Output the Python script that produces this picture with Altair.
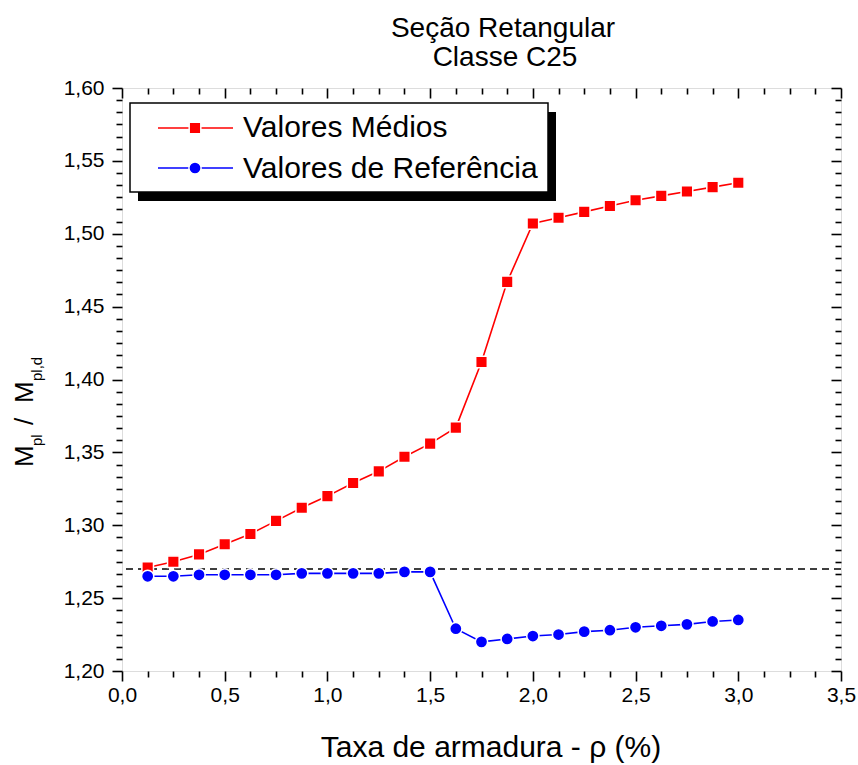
import altair as alt
import pandas as pd

# ---- data -------------------------------------------------------------
rho = [0.125, 0.25, 0.375, 0.5, 0.625, 0.75, 0.875, 1.0,
       1.125, 1.25, 1.375, 1.5, 1.625, 1.75, 1.875, 2.0,
       2.125, 2.25, 2.375, 2.5, 2.625, 2.75, 2.875, 3.0]

valores_medios = [1.271, 1.275, 1.280, 1.287, 1.294, 1.303, 1.312, 1.320,
                  1.329, 1.337, 1.347, 1.356, 1.367, 1.412, 1.467, 1.507,
                  1.511, 1.515, 1.519, 1.523, 1.526, 1.529, 1.532, 1.535]

valores_referencia = [1.265, 1.265, 1.266, 1.266, 1.266, 1.266, 1.267, 1.267,
                      1.267, 1.267, 1.268, 1.268, 1.229, 1.220, 1.222, 1.224,
                      1.225, 1.227, 1.228, 1.230, 1.231, 1.232, 1.234, 1.235]

series_names = ["Valores Médios", "Valores de Referência"]
series_colors = ["#ff0000", "#0000ff"]
series_shapes = ["square", "circle"]
series_sizes = [135, 150]

limite = 1.27  # horizontal reference level

x_major = [0.0, 0.5, 1.0, 1.5, 2.0, 2.5, 3.0, 3.5]
y_major = [1.20, 1.25, 1.30, 1.35, 1.40, 1.45, 1.50, 1.55, 1.60]
x_minor = [round(i * 0.125, 4) for i in range(29) if i % 4 != 0]
y_minor = [round(1.20 + i * 0.05 / 6, 5) for i in range(49) if i % 6 != 0]

titulo = ["Seção Retangular", "Classe C25"]
x_titulo = "Taxa de armadura - ρ (%)"

df = pd.DataFrame({
    "rho": rho * 2,
    "valor": valores_medios + valores_referencia,
    "serie": [series_names[0]] * len(rho) + [series_names[1]] * len(rho),
})

# ---- layout -------------------------------------------------------------
W, H = 719, 583
FONT = "Liberation Sans"

xs = alt.Scale(domain=[0, 3.5], nice=False, zero=False)
ys = alt.Scale(domain=[1.2, 1.6], nice=False, zero=False)
color_scale = alt.Scale(domain=series_names, range=series_colors)
shape_scale = alt.Scale(domain=series_names, range=series_shapes)
size_scale = alt.Scale(domain=series_names, range=series_sizes)

common_axis = dict(domain=False, grid=False, title=None, tickColor="black",
                   tickWidth=1.6)


def axis_layer(xaxis, yaxis):
    return alt.Chart(df).mark_point(opacity=0).encode(
        x=alt.X("rho:Q", scale=xs, axis=xaxis),
        y=alt.Y("valor:Q", scale=ys, axis=yaxis),
    )


# bottom / left: major ticks with labels (comma as decimal separator)
ax_major = axis_layer(
    alt.Axis(orient="bottom", values=x_major, tickSize=10,
             labelExpr="replace(format(datum.value, '.1f'), '.', ',')",
             labelFont=FONT, labelFontSize=21, labelColor="black",
             labelPadding=3, labelFlush=False, labelOverlap=False,
             **common_axis),
    alt.Axis(orient="left", values=y_major, tickSize=10,
             labelExpr="replace(format(datum.value, '.2f'), '.', ',')",
             labelFont=FONT, labelFontSize=21, labelColor="black",
             labelPadding=8, labelFlush=False, labelOverlap=False,
             **common_axis),
)
# bottom / left: minor ticks
ax_minor = axis_layer(
    alt.Axis(orient="bottom", values=x_minor, tickSize=6, labels=False,
             **common_axis),
    alt.Axis(orient="left", values=y_minor, tickSize=6, labels=False,
             **common_axis),
)
# top / right: inward ticks (axis shifted inside, ticks point back to frame)
ax_top_major = axis_layer(
    alt.Axis(orient="top", values=x_major, tickSize=10, offset=-10,
             labels=False, **common_axis),
    alt.Axis(orient="right", values=y_major, tickSize=10, offset=-10,
             labels=False, **common_axis),
)
ax_top_minor = axis_layer(
    alt.Axis(orient="top", values=x_minor, tickSize=6, offset=-6,
             labels=False, **common_axis),
    alt.Axis(orient="right", values=y_minor, tickSize=6, offset=-6,
             labels=False, **common_axis),
)

# dashed reference line
ref_line = alt.Chart(pd.DataFrame({"nivel": [limite]})).mark_rule(
    color="black", strokeWidth=1.5, strokeDash=[7, 5]
).encode(y=alt.Y("nivel:Q", scale=ys, axis=None))

lines = alt.Chart(df).mark_line(strokeWidth=1.6).encode(
    x=alt.X("rho:Q", scale=xs, axis=None),
    y=alt.Y("valor:Q", scale=ys, axis=None),
    color=alt.Color("serie:N", scale=color_scale, legend=None),
    detail="serie:N",
)

points = alt.Chart(df).mark_point(
    filled=True, opacity=1, stroke="white", strokeWidth=1.5
).encode(
    x=alt.X("rho:Q", scale=xs, axis=None),
    y=alt.Y("valor:Q", scale=ys, axis=None),
    color=alt.Color("serie:N", scale=color_scale, legend=None),
    shape=alt.Shape("serie:N", scale=shape_scale, legend=None),
    size=alt.Size("serie:N", scale=size_scale, legend=None),
)

# ---- legend box with drop shadow ------------------------------------------
one = pd.DataFrame({"k": [0]})
legend_shadow = alt.Chart(one).mark_rect(color="black").encode(
    x=alt.value(16), x2=alt.value(434), y=alt.value(24), y2=alt.value(113))
legend_box = alt.Chart(one).mark_rect(
    fill="white", stroke="black", strokeWidth=1.5).encode(
    x=alt.value(8), x2=alt.value(426), y=alt.value(15), y2=alt.value(104))

legend_layers = []
for name, col, shp, sz, ly, ty in zip(series_names, series_colors,
                                      series_shapes, series_sizes,
                                      [40, 80], [49, 90]):
    row = pd.DataFrame({"serie": [name]})
    legend_layers.append(alt.Chart(row).mark_rule(
        color=col, strokeWidth=1.6).encode(
        x=alt.value(36), x2=alt.value(111), y=alt.value(ly)))
    legend_layers.append(alt.Chart(row).mark_point(
        filled=True, opacity=1, size=sz, shape=shp, color=col,
        stroke="white", strokeWidth=1.5).encode(
        x=alt.value(73), y=alt.value(ly)))
    legend_layers.append(alt.Chart(row).mark_text(
        align="left", baseline="alphabetic", font=FONT, fontSize=30,
        color="black").encode(
        x=alt.value(121), y=alt.value(ty), text="serie:N"))

# ---- titles ---------------------------------------------------------------
def label(text, x, y, size, angle=0, align="center"):
    return alt.Chart(pd.DataFrame({"t": [text]})).mark_text(
        align=align, baseline="alphabetic", font=FONT, fontSize=size,
        color="black", angle=angle).encode(
        x=alt.value(x), y=alt.value(y), text="t:N")


title_layers = [
    label(titulo[0], 381, -51, 28),
    label(titulo[1], 383, -22, 28),
    label(x_titulo, 369, 669, 30),
    # y title: M_pl / M_pl,d, read bottom to top
    label("M", -89, 379, 26, angle=270, align="left"),
    label("pl", -80, 358, 15, angle=270, align="left"),
    label("/", -89, 337, 26, angle=270, align="left"),
    label("M", -89, 315, 26, angle=270, align="left"),
    label("pl,d", -80, 293, 15, angle=270, align="left"),
]

chart = alt.layer(
    ax_major, ax_minor, ax_top_major, ax_top_minor,
    ref_line, lines, points,
    legend_shadow, legend_box, *legend_layers,
    *title_layers,
).resolve_axis(
    x="independent", y="independent"
).properties(
    width=W, height=H,
    autosize=alt.AutoSizeParams(type="none"),
    padding={"left": 122, "top": 88, "right": 17, "bottom": 94},
).configure_view(
    stroke="black", strokeWidth=2
).configure(background="white")

chart.save("out.html", embed_options={"renderer": "svg", "actions": False})
